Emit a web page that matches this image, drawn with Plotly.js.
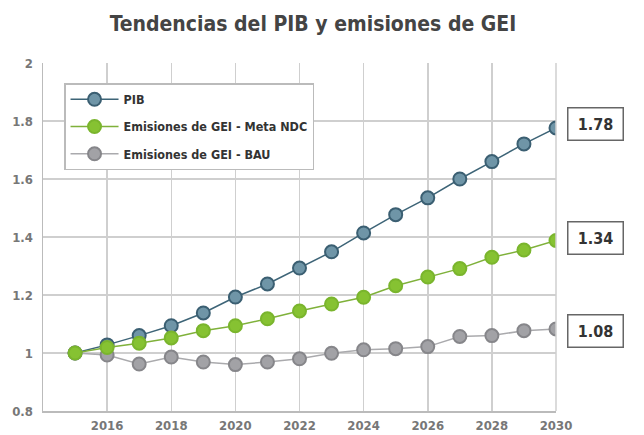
<!DOCTYPE html>
<html>
<head>
<meta charset="utf-8">
<script src="https://cdn.plot.ly/plotly-3.0.1.min.js"></script>
<style>html,body{margin:0;padding:0;background:#fff;}#chart{width:644px;height:435px;}</style>
</head>
<body>
<div id="chart"></div>
<script>
const years = [2015,2016,2017,2018,2019,2020,2021,2022,2023,2024,2025,2026,2027,2028,2029,2030];
const pib = [1.00,1.028,1.060,1.094,1.138,1.193,1.238,1.293,1.349,1.414,1.477,1.535,1.600,1.660,1.721,1.776];
const ndc = [1.00,1.019,1.034,1.052,1.077,1.094,1.118,1.145,1.169,1.192,1.232,1.262,1.291,1.330,1.355,1.388];
const bau = [1.00,0.993,0.962,0.986,0.969,0.960,0.969,0.980,0.999,1.011,1.015,1.022,1.057,1.060,1.077,1.083];
const seriesNames = ["PIB","Emisiones de GEI - Meta NDC","Emisiones de GEI - BAU"];
const endLabels = ["1.78","1.34","1.08"];
const yTicks = [0.8,1,1.2,1.4,1.6,1.8,2];
const xTicks = [2016,2018,2020,2022,2024,2026,2028,2030];

const FONT = "'DejaVu Sans Condensed','Liberation Sans Narrow',sans-serif";

function tr(y, name, lineCol, fill, outline, rank, grp){
  return {x: years, y: y, name: name, type:'scatter', mode:'lines+markers',
    line:{color:lineCol, width:1.5},
    marker:{size:13, color:fill, line:{color:outline, width:2}},
    legendrank: rank, legendgroup: grp, hoverinfo:'skip'};
}
const data = [
  tr(pib, seriesNames[0], '#3d6477', '#6f95a7', '#3b5f72', 1, 'a'),
  tr(bau, seriesNames[2], '#aaaaad', '#a2a2a6', '#86868a', 3, 'c'),
  tr(ndc, seriesNames[1], '#7fb13a', '#86c232', '#7ab52d', 2, 'b')
];
const lastVals = [pib[pib.length-1], ndc[ndc.length-1], bau[bau.length-1]];
const yShifts = [4, 2, -2];
const annotations = endLabels.map((t,i)=>({
  x: years[years.length-1], y: lastVals[i], xref:'x', yref:'y', text: t,
  showarrow:false, xshift: 39, yshift: yShifts[i], width: 50, height: 27,
  bordercolor:'#666', borderwidth:1.5, borderpad:2, bgcolor:'#fff',
  font:{family:FONT, size:16, color:'#333', weight:'bold'}
}));
const layout = {
  width:644, height:435,
  margin:{l:43, r:88, t:63, b:24},
  paper_bgcolor:'#fff', plot_bgcolor:'#fff',
  title:{text:'Tendencias del PIB y emisiones de GEI', x:0.486, xanchor:'center', y:0.945, yanchor:'middle',
    font:{family:FONT, size:21, color:'#444', weight:'bold'}},
  xaxis:{range:[2014,2030], tickvals:xTicks, ticktext:xTicks.map(String), showgrid:true, gridcolor:'#cfcfcf', gridwidth:1.5,
    showline:true, linecolor:'#bbb', linewidth:1.5, zeroline:false, ticks:'', ticklabelstandoff:2, automargin:false,
    tickfont:{family:FONT, size:13, color:'#777', weight:'bold'}, mirror:false},
  yaxis:{range:[0.8,2], tickvals:yTicks, ticktext:yTicks.map(String), showgrid:true, gridcolor:'#cfcfcf', gridwidth:1.5,
    showline:true, linecolor:'#bbb', linewidth:1.5, zeroline:false, ticks:'', ticklabelstandoff:6, automargin:false,
    tickfont:{family:FONT, size:13, color:'#777', weight:'bold'}},
  legend:{x:0.041, y:0.942, xanchor:'left', yanchor:'top', bgcolor:'#fff', bordercolor:'#bbb', borderwidth:1.5,
    traceorder:'grouped', tracegroupgap:8, itemwidth:48,
    font:{family:FONT, size:12.5, color:'#333', weight:'bold'}},
  showlegend:true,
  annotations: annotations,
  shapes:[{type:'line', xref:'paper', yref:'paper', x0:1, x1:1, y0:0, y1:1, line:{color:'#cfcfcf', width:1.5}}]
};
Plotly.newPlot('chart', data, layout, {displayModeBar:false, staticPlot:true});
</script>
</body>
</html>
